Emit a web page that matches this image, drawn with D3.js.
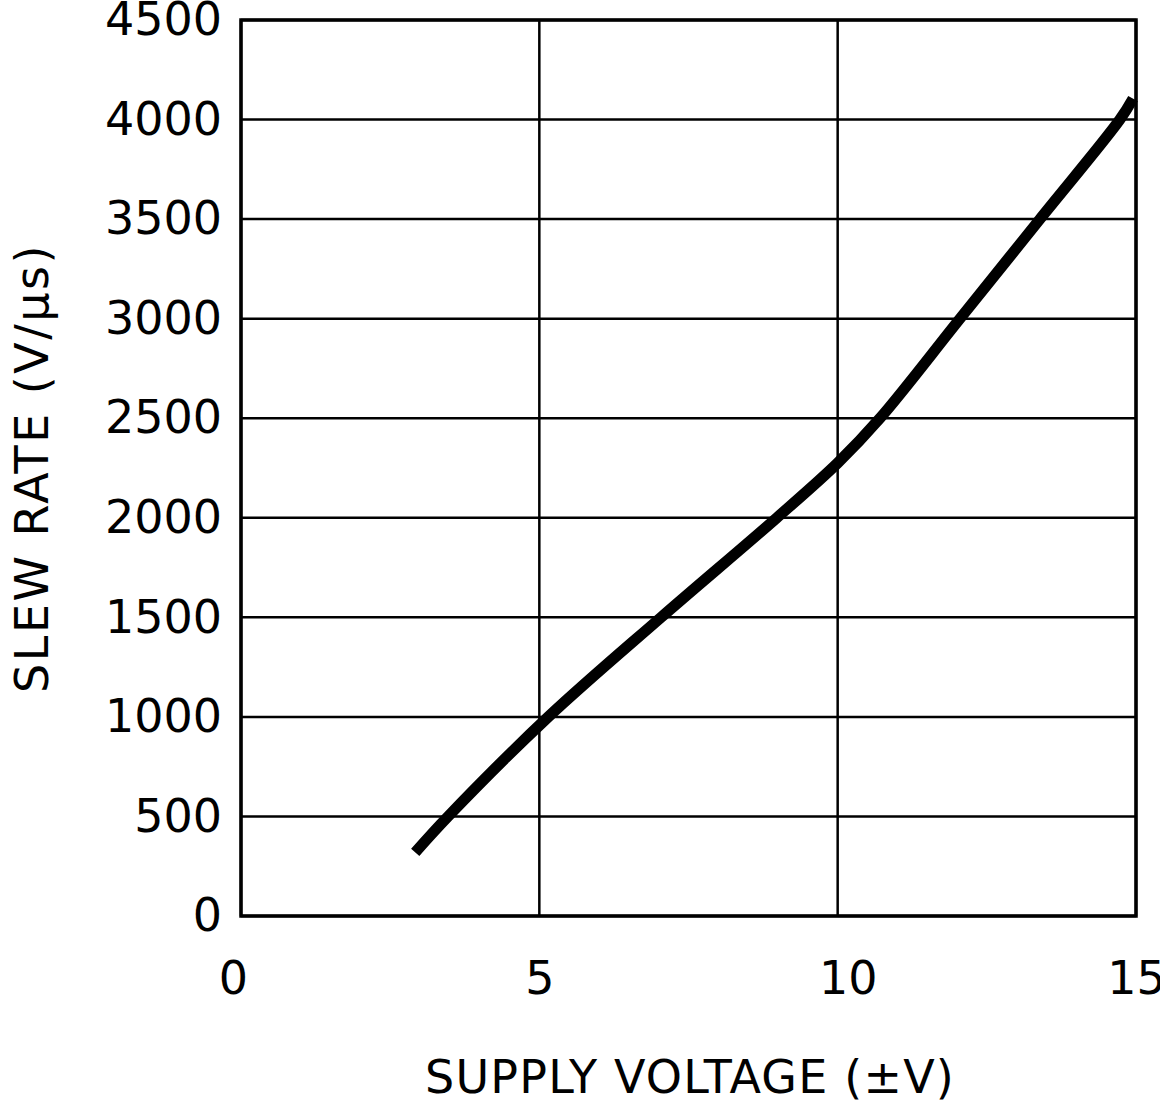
<!DOCTYPE html>
<html>
<head>
<meta charset="utf-8">
<script src="https://cdn.jsdelivr.net/npm/d3@7"></script>
<style>
  body { margin: 0; background: #fff; }
  svg text { font-family: "DejaVu Sans", sans-serif; fill: #000; }
</style>
</head>
<body>
<svg class="slew-chart"></svg>
<script>
// supply voltage (±V) vs slew rate (V/us)
var supplyVolts = [2.92, 3.47, 5.15, 7.04, 8.98, 10, 10.71, 12.05, 13.39, 14.73, 14.95];
var slewRate = [320, 500, 1000, 1500, 2000, 2275, 2500, 3000, 3500, 4000, 4105];
var xTicks = [0, 5, 10, 15];
var yTicks = [0, 500, 1000, 1500, 2000, 2500, 3000, 3500, 4000, 4500];

var data = supplyVolts.map(function(v, i) { return {v: v, sr: slewRate[i]}; });

var margin = {top: 20, right: 24, bottom: 185, left: 241};
var width = 1160 - margin.left - margin.right;
var height = 1101 - margin.top - margin.bottom;

var x = d3.scaleLinear().domain([0, 15]).range([0, width]);
var y = d3.scaleLinear().domain([0, 4500]).range([height, 0]);

var svg = d3.select(".slew-chart")
  .attr("width", 1160)
  .attr("height", 1101);

var chart = svg.append("g")
  .attr("transform", "translate(" + margin.left + "," + margin.top + ")");

// grid
chart.selectAll(".hgrid")
  .data(yTicks)
  .enter().append("line")
  .attr("x1", 0).attr("x2", width)
  .attr("y1", function(d) { return y(d); })
  .attr("y2", function(d) { return y(d); })
  .attr("stroke", "#000")
  .attr("stroke-width", 2.5);

chart.selectAll(".vgrid")
  .data(xTicks)
  .enter().append("line")
  .attr("y1", 0).attr("y2", height)
  .attr("x1", function(d) { return x(d); })
  .attr("x2", function(d) { return x(d); })
  .attr("stroke", "#000")
  .attr("stroke-width", 2.5);

chart.append("rect")
  .attr("width", width)
  .attr("height", height)
  .attr("fill", "none")
  .attr("stroke", "#000")
  .attr("stroke-width", 3.5);

// axes (labels only, lines are the grid above)
var yAxis = d3.axisLeft(y).tickValues(yTicks).tickSize(0).tickPadding(19)
  .tickFormat(d3.format("d"));
var xAxis = d3.axisBottom(x).tickValues(xTicks).tickSize(0).tickPadding(45)
  .tickFormat(d3.format("d"));

chart.append("g")
  .attr("class", "y axis")
  .call(yAxis)
  .call(function(g) { g.select(".domain").remove(); })
  .selectAll("text")
  .attr("font-size", 46)
  .attr("font-family", "DejaVu Sans");

chart.append("g")
  .attr("class", "x axis")
  .attr("transform", "translate(0," + height + ")")
  .call(xAxis)
  .call(function(g) { g.select(".domain").remove(); })
  .selectAll("text")
  .attr("font-size", 46)
  .attr("font-family", "DejaVu Sans")
  .attr("dx", function(d) { return d === 0 ? -8 : (d === 10 ? 10 : 0); });

// curve
var line = d3.line()
  .x(function(d) { return x(d.v); })
  .y(function(d) { return y(d.sr); })
  .curve(d3.curveCatmullRom.alpha(0.5));

chart.append("path")
  .datum(data)
  .attr("fill", "none")
  .attr("stroke", "#000")
  .attr("stroke-width", 11)
  .attr("d", line);

// titles
svg.append("text")
  .attr("x", 690)
  .attr("y", 1093)
  .attr("text-anchor", "middle")
  .attr("font-size", 46)
  .style("letter-spacing", "1.2px")
  .text("SUPPLY VOLTAGE (\u00B1V)");

svg.append("text")
  .attr("transform", "translate(48,468) rotate(-90)")
  .attr("text-anchor", "middle")
  .attr("font-size", 46)
  .style("letter-spacing", "2.5px")
  .text("SLEW RATE (V/\u03BCs)");
</script>
</body>
</html>
